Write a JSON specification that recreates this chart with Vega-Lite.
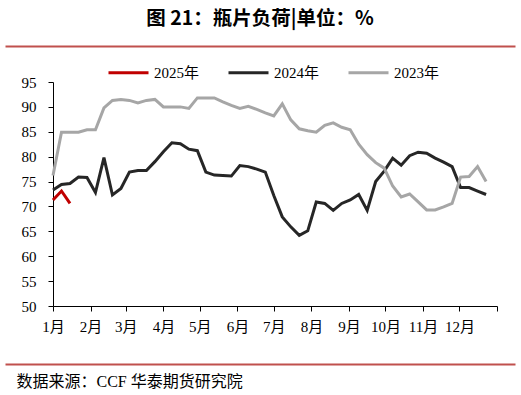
{
  "$schema": "https://vega.github.io/schema/vega-lite/v6.json",
  "width": 444,
  "height": 224,
  "autosize": {"type": "none"},
  "padding": {"left": 53, "top": 82, "right": 24, "bottom": 89},
  "background": "white",
  "title": {"text": "图 21：瓶片负荷|单位：%", "font": "Noto Sans CJK SC", "fontSize": 19.5, "fontWeight": "bold", "color": "#000000", "anchor": "middle", "frame": "group", "dx": -15, "offset": 17},
  "data": {"values": [
    {"date": "2024/01/01", "series": "2023年", "value": 76.2},
    {"date": "2024/01/08", "series": "2023年", "value": 84.9},
    {"date": "2024/01/15", "series": "2023年", "value": 84.9},
    {"date": "2024/01/22", "series": "2023年", "value": 84.9},
    {"date": "2024/01/29", "series": "2023年", "value": 85.4},
    {"date": "2024/02/05", "series": "2023年", "value": 85.4},
    {"date": "2024/02/12", "series": "2023年", "value": 89.8},
    {"date": "2024/02/19", "series": "2023年", "value": 91.3},
    {"date": "2024/02/26", "series": "2023年", "value": 91.5},
    {"date": "2024/03/04", "series": "2023年", "value": 91.3},
    {"date": "2024/03/11", "series": "2023年", "value": 90.8},
    {"date": "2024/03/18", "series": "2023年", "value": 91.3},
    {"date": "2024/03/25", "series": "2023年", "value": 91.5},
    {"date": "2024/04/01", "series": "2023年", "value": 90.0},
    {"date": "2024/04/08", "series": "2023年", "value": 90.0},
    {"date": "2024/04/15", "series": "2023年", "value": 90.0},
    {"date": "2024/04/22", "series": "2023年", "value": 89.7},
    {"date": "2024/04/29", "series": "2023年", "value": 91.8},
    {"date": "2024/05/06", "series": "2023年", "value": 91.8},
    {"date": "2024/05/13", "series": "2023年", "value": 91.8},
    {"date": "2024/05/20", "series": "2023年", "value": 91.0},
    {"date": "2024/05/27", "series": "2023年", "value": 90.3},
    {"date": "2024/06/03", "series": "2023年", "value": 89.7},
    {"date": "2024/06/10", "series": "2023年", "value": 90.1},
    {"date": "2024/06/17", "series": "2023年", "value": 89.5},
    {"date": "2024/06/24", "series": "2023年", "value": 88.8},
    {"date": "2024/07/01", "series": "2023年", "value": 88.2},
    {"date": "2024/07/08", "series": "2023年", "value": 90.6},
    {"date": "2024/07/15", "series": "2023年", "value": 87.4},
    {"date": "2024/07/22", "series": "2023年", "value": 85.6},
    {"date": "2024/07/29", "series": "2023年", "value": 85.2},
    {"date": "2024/08/05", "series": "2023年", "value": 84.9},
    {"date": "2024/08/12", "series": "2023年", "value": 86.3},
    {"date": "2024/08/19", "series": "2023年", "value": 86.8},
    {"date": "2024/08/26", "series": "2023年", "value": 85.9},
    {"date": "2024/09/02", "series": "2023年", "value": 85.4},
    {"date": "2024/09/09", "series": "2023年", "value": 82.5},
    {"date": "2024/09/16", "series": "2023年", "value": 80.4},
    {"date": "2024/09/23", "series": "2023年", "value": 78.8},
    {"date": "2024/09/30", "series": "2023年", "value": 77.7},
    {"date": "2024/10/07", "series": "2023年", "value": 74.1},
    {"date": "2024/10/14", "series": "2023年", "value": 71.9},
    {"date": "2024/10/21", "series": "2023年", "value": 72.5},
    {"date": "2024/10/28", "series": "2023年", "value": 70.9},
    {"date": "2024/11/04", "series": "2023年", "value": 69.3},
    {"date": "2024/11/11", "series": "2023年", "value": 69.3},
    {"date": "2024/11/18", "series": "2023年", "value": 69.9},
    {"date": "2024/11/25", "series": "2023年", "value": 70.6},
    {"date": "2024/12/02", "series": "2023年", "value": 75.9},
    {"date": "2024/12/09", "series": "2023年", "value": 76.0},
    {"date": "2024/12/16", "series": "2023年", "value": 78.0},
    {"date": "2024/12/23", "series": "2023年", "value": 75.0},
    {"date": "2024/01/01", "series": "2024年", "value": 73.3},
    {"date": "2024/01/08", "series": "2024年", "value": 74.4},
    {"date": "2024/01/15", "series": "2024年", "value": 74.6},
    {"date": "2024/01/22", "series": "2024年", "value": 75.9},
    {"date": "2024/01/29", "series": "2024年", "value": 75.8},
    {"date": "2024/02/05", "series": "2024年", "value": 72.8},
    {"date": "2024/02/12", "series": "2024年", "value": 79.8},
    {"date": "2024/02/19", "series": "2024年", "value": 72.3},
    {"date": "2024/02/26", "series": "2024年", "value": 73.6},
    {"date": "2024/03/04", "series": "2024年", "value": 76.9},
    {"date": "2024/03/11", "series": "2024年", "value": 77.2},
    {"date": "2024/03/18", "series": "2024年", "value": 77.2},
    {"date": "2024/03/25", "series": "2024年", "value": 79.0},
    {"date": "2024/04/01", "series": "2024年", "value": 81.0},
    {"date": "2024/04/08", "series": "2024年", "value": 82.8},
    {"date": "2024/04/15", "series": "2024年", "value": 82.6},
    {"date": "2024/04/22", "series": "2024年", "value": 81.5},
    {"date": "2024/04/29", "series": "2024年", "value": 81.2},
    {"date": "2024/05/06", "series": "2024年", "value": 76.9},
    {"date": "2024/05/13", "series": "2024年", "value": 76.3},
    {"date": "2024/05/20", "series": "2024年", "value": 76.2},
    {"date": "2024/05/27", "series": "2024年", "value": 76.1},
    {"date": "2024/06/03", "series": "2024年", "value": 78.2},
    {"date": "2024/06/10", "series": "2024年", "value": 78.0},
    {"date": "2024/06/17", "series": "2024年", "value": 77.5},
    {"date": "2024/06/24", "series": "2024年", "value": 76.9},
    {"date": "2024/07/01", "series": "2024年", "value": 72.2},
    {"date": "2024/07/08", "series": "2024年", "value": 67.9},
    {"date": "2024/07/15", "series": "2024年", "value": 65.9},
    {"date": "2024/07/22", "series": "2024年", "value": 64.2},
    {"date": "2024/07/29", "series": "2024年", "value": 65.1},
    {"date": "2024/08/05", "series": "2024年", "value": 70.9},
    {"date": "2024/08/12", "series": "2024年", "value": 70.6},
    {"date": "2024/08/19", "series": "2024年", "value": 69.2},
    {"date": "2024/08/26", "series": "2024年", "value": 70.6},
    {"date": "2024/09/02", "series": "2024年", "value": 71.3},
    {"date": "2024/09/09", "series": "2024年", "value": 72.4},
    {"date": "2024/09/16", "series": "2024年", "value": 69.2},
    {"date": "2024/09/23", "series": "2024年", "value": 75.0},
    {"date": "2024/09/30", "series": "2024年", "value": 77.1},
    {"date": "2024/10/07", "series": "2024年", "value": 79.7},
    {"date": "2024/10/14", "series": "2024年", "value": 78.3},
    {"date": "2024/10/21", "series": "2024年", "value": 80.2},
    {"date": "2024/10/28", "series": "2024年", "value": 80.9},
    {"date": "2024/11/04", "series": "2024年", "value": 80.7},
    {"date": "2024/11/11", "series": "2024年", "value": 79.7},
    {"date": "2024/11/18", "series": "2024年", "value": 78.9},
    {"date": "2024/11/25", "series": "2024年", "value": 78.0},
    {"date": "2024/12/02", "series": "2024年", "value": 73.8},
    {"date": "2024/12/09", "series": "2024年", "value": 73.8},
    {"date": "2024/12/16", "series": "2024年", "value": 73.1},
    {"date": "2024/12/23", "series": "2024年", "value": 72.4},
    {"date": "2024/01/01", "series": "2025年", "value": 71.3},
    {"date": "2024/01/08", "series": "2025年", "value": 73.1},
    {"date": "2024/01/15", "series": "2025年", "value": 70.6}
  ]},
  "encoding": {
    "y": {
      "field": "value", "type": "quantitative",
      "scale": {"domain": [50, 95], "nice": false, "zero": false},
      "axis": {"values": [50, 55, 60, 65, 70, 75, 80, 85, 90, 95], "title": null, "tickSize": 5, "labelPadding": 12, "labelFont": "Liberation Serif", "labelFontSize": 15, "labelColor": "#000000", "domainColor": "#000000", "tickColor": "#000000", "grid": false}
    },
    "color": {
      "field": "series", "type": "nominal",
      "scale": {"domain": ["2025年", "2024年", "2023年"], "range": ["#c00000", "#262626", "#a6a6a6"]},
      "legend": {"title": null, "orient": "none", "legendX": 54, "legendY": -31, "direction": "horizontal", "symbolType": "stroke", "symbolSize": 1600, "symbolStrokeWidth": 3, "labelFont": "Liberation Serif, Noto Sans CJK SC", "labelFontSize": 15, "labelColor": "#000000", "labelOffset": 4, "columnPadding": 22}
    }
  },
  "layer": [
    {
      "transform": [{"filter": "datum.series === '2024年'"}],
      "mark": {"type": "line", "strokeWidth": 3},
      "encoding": {
        "x": {
          "field": "date", "type": "temporal",
          "scale": {"domain": [{"year": 2023, "month": 11, "date": 22, "hours": 10, "minutes": 23}, {"year": 2025, "month": 1, "date": 15, "hours": 20, "minutes": 8}], "range": [-48, 462], "nice": false},
          "axis": {"orient": "top", "offset": 36, "labels": false, "ticks": false, "title": null, "domainColor": "#c0504d", "domainWidth": 2, "grid": false}
        }
      }
    },
    {
      "transform": [{"filter": "datum.series === '2023年'"}],
      "mark": {"type": "line", "strokeWidth": 3},
      "encoding": {
        "x": {
          "field": "date", "type": "temporal",
          "scale": {"domain": [{"year": 2024, "month": 1, "date": 1}, {"year": 2025, "month": 1, "date": 1}], "nice": false},
          "axis": {"orient": "bottom", "title": null, "values": [
            {"year": 2024, "month": 1, "date": 1}, {"year": 2024, "month": 2, "date": 1}, {"year": 2024, "month": 3, "date": 1}, {"year": 2024, "month": 4, "date": 1},
            {"year": 2024, "month": 5, "date": 1}, {"year": 2024, "month": 6, "date": 1}, {"year": 2024, "month": 7, "date": 1}, {"year": 2024, "month": 8, "date": 1},
            {"year": 2024, "month": 9, "date": 1}, {"year": 2024, "month": 10, "date": 1}, {"year": 2024, "month": 11, "date": 1}, {"year": 2024, "month": 12, "date": 1},
            {"year": 2025, "month": 1, "date": 1}],
            "labelExpr": "year(datum.value) > 2024 ? '' : (month(datum.value) + 1) + '月'",
            "tickSize": 5, "labelPadding": 8, "labelFont": "Liberation Serif, Noto Sans CJK SC", "labelFontSize": 15, "labelColor": "#000000", "labelFlush": false, "labelOverlap": false, "domainColor": "#000000", "tickColor": "#000000", "grid": false}
        }
      }
    },
    {
      "transform": [{"filter": "datum.series === '2025年'"}],
      "mark": {"type": "line", "strokeWidth": 3},
      "encoding": {
        "x": {
          "field": "date", "type": "temporal",
          "scale": {"domain": [{"year": 2023, "month": 11, "date": 22, "hours": 10, "minutes": 23}, {"year": 2025, "month": 1, "date": 15, "hours": 20, "minutes": 8}], "range": [-48, 462], "nice": false},
          "axis": {"orient": "bottom", "offset": 58, "labels": false, "ticks": false, "domainColor": "#c0504d", "domainWidth": 2, "grid": false,
            "title": "数据来源：CCF  华泰期货研究院", "titleFont": "Liberation Serif, Noto Sans CJK SC", "titleFontSize": 16, "titleFontWeight": "normal", "titleColor": "#000000", "titleX": -37, "titleY": 17, "titleAlign": "left", "titleAnchor": null, "titleBaseline": "middle"}
        }
      }
    }
  ],
  "resolve": {"scale": {"x": "independent"}, "axis": {"x": "independent"}},
  "config": {"view": {"stroke": null}}
}
